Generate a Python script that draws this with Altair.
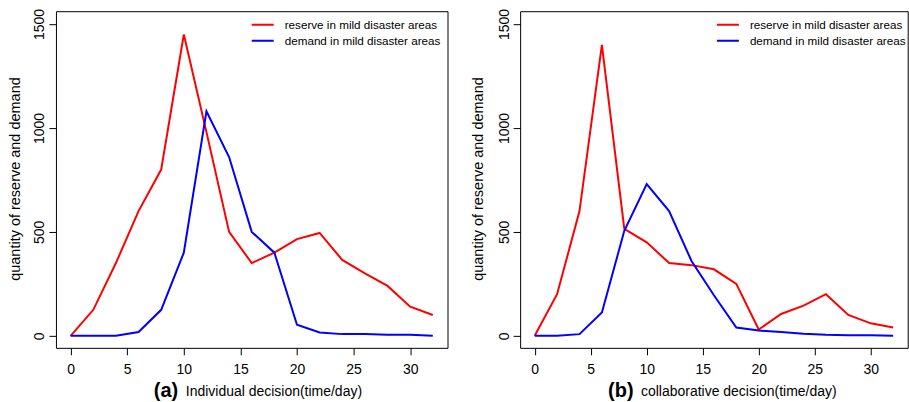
import altair as alt
import pandas as pd

days = list(range(0, 33, 2))
ind_reserve = [0, 125, 350, 600, 800, 1450, 980, 500, 350, 400, 465, 495, 365, 300, 240, 140, 100]
ind_demand = [0, 0, 0, 18, 125, 400, 1080, 860, 500, 400, 53, 16, 8, 8, 5, 5, 0]
col_reserve = [0, 200, 600, 1400, 515, 450, 350, 340, 320, 250, 30, 105, 145, 200, 100, 60, 40]
col_demand = [0, 0, 8, 112, 505, 730, 600, 360, 195, 40, 25, 18, 10, 5, 3, 3, 0]
series_names = ["reserve in mild disaster areas", "demand in mild disaster areas"]
series_colors = ["#FF0000", "#0000FF"]
x_ticks = [0, 5, 10, 15, 20, 25, 30]
y_ticks = [0, 500, 1000, 1500]
y_title = "quantity of reserve and demand"
panel_tags = ["(a)", "(b)"]
panel_titles = ["Individual decision(time/day)", "collaborative decision(time/day)"]

FONT = "Liberation Sans"
H = 337


def panel(reserve, demand, tag, title, width, tag_x, title_x, ytitle_x, legend_x):
    df = pd.DataFrame({
        "day": days * 2,
        "value": reserve + demand,
        "series": [series_names[0]] * len(days) + [series_names[1]] * len(days),
        "order": [0] * len(days) + [1] * len(days),
    })
    lines = alt.Chart(df).mark_line(strokeWidth=2, clip=True).encode(
        x=alt.X("day:Q",
                scale=alt.Scale(domain=[-1.3, 33.3], nice=False, zero=False),
                axis=alt.Axis(values=x_ticks, title=None, labelPadding=8,
                              labelBaseline="top", format="d")),
        y=alt.Y("value:Q",
                scale=alt.Scale(domain=[-58, 1562], nice=False, zero=False),
                axis=alt.Axis(values=y_ticks, title=None, labelAngle=270,
                              labelAlign="center", labelBaseline="alphabetic",
                              labelPadding=5, format="d")),
        color=alt.Color("series:N",
                        scale=alt.Scale(domain=series_names, range=series_colors),
                        sort=series_names,
                        legend=alt.Legend(orient="none", legendX=legend_x, legendY=7,
                                          title=None, symbolType="stroke",
                                          symbolStrokeWidth=2, symbolSize=484,
                                          labelFontSize=11.7, labelFont=FONT,
                                          labelOffset=10, clipHeight=13,
                                          rowPadding=2, padding=0,
                                          labelLimit=400,
                                          labelColor="black")),
        detail="order:O",
    )
    ytxt = alt.Chart(pd.DataFrame({"t": [y_title]})).mark_text(
        angle=270, fontSize=14.5, font=FONT, color="black", baseline="middle", align="center"
    ).encode(text="t:N", x=alt.value(ytitle_x), y=alt.value(H / 2 - 0.5))
    tagtxt = alt.Chart(pd.DataFrame({"t": [tag]})).mark_text(
        fontSize=20, font=FONT, fontWeight="bold", color="black", align="left",
        baseline="alphabetic"
    ).encode(text="t:N", x=alt.value(tag_x), y=alt.value(386))
    ttxt = alt.Chart(pd.DataFrame({"t": [title]})).mark_text(
        fontSize=14, font=FONT, color="black", align="left", baseline="alphabetic"
    ).encode(text="t:N", x=alt.value(title_x), y=alt.value(385))
    return alt.layer(lines, ytxt, tagtxt, ttxt).properties(width=width, height=H)


left = panel(ind_reserve, ind_demand, panel_tags[0], panel_titles[0], 392,
             98, 130, -40, 195)
right = panel(col_reserve, col_demand, panel_tags[1], panel_titles[1], 388,
              88, 121, -40.7, 196)

chart = alt.hconcat(left, right, spacing=72.7, bounds="flush").resolve_scale(
    color="independent"
).properties(
    padding={"left": 7, "top": 7, "right": 0, "bottom": 0},
    background="white",
).configure(font=FONT).configure_view(
    stroke="black", strokeWidth=1
).configure_axis(
    domain=False, grid=False, ticks=True, tickColor="black", tickSize=7,
    tickWidth=1, labelFontSize=14, labelColor="black", labelFont=FONT
)

chart.save("out.html", embed_options={"renderer": "svg", "actions": False})
